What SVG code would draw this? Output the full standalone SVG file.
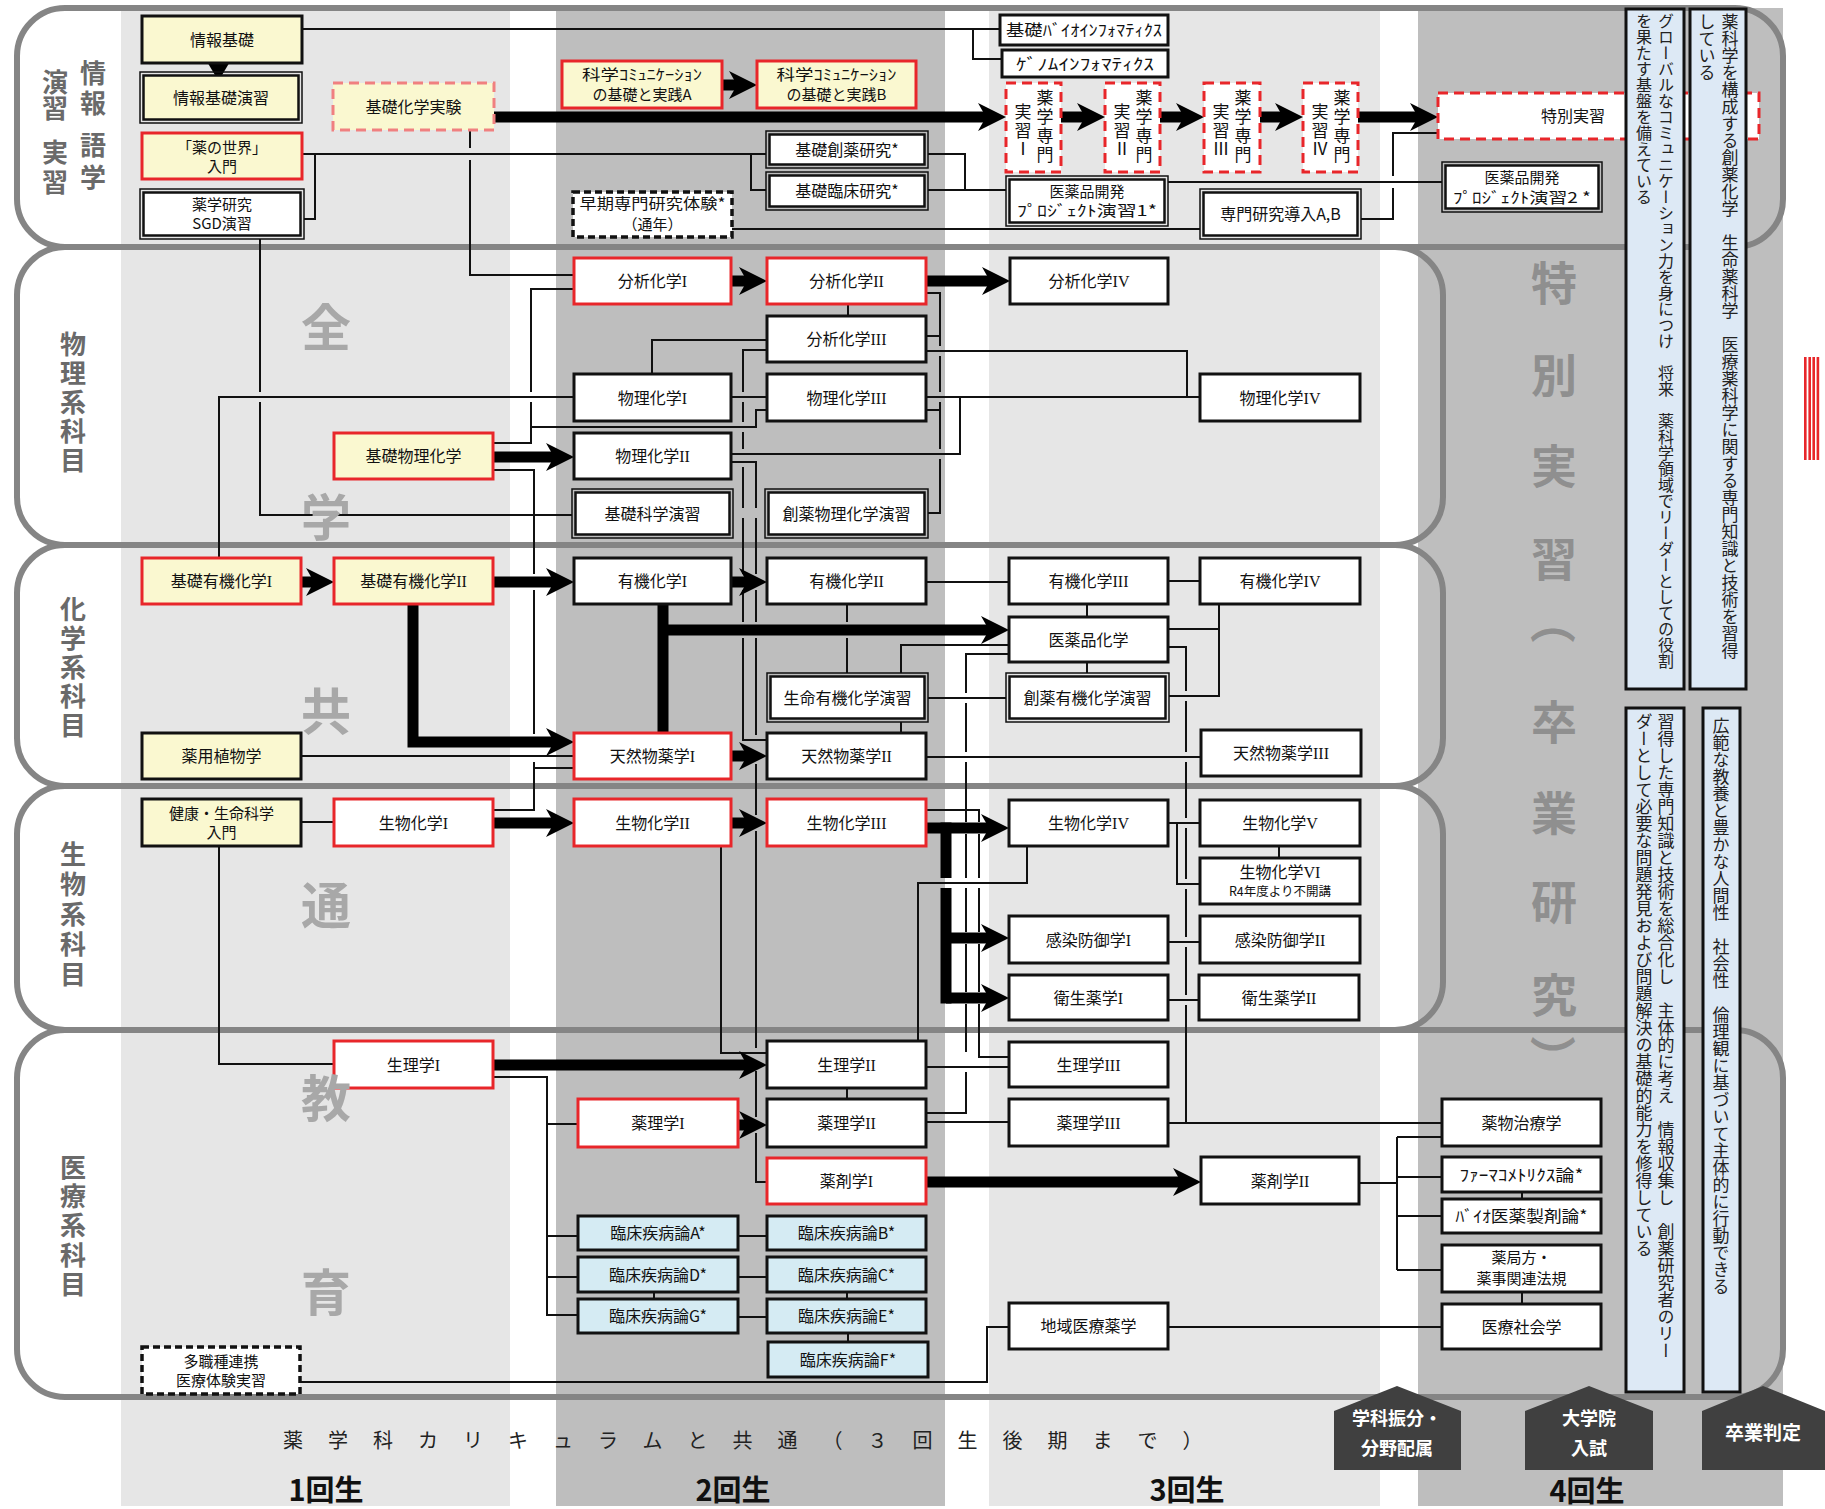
<svg xmlns="http://www.w3.org/2000/svg" width="1825" height="1509" viewBox="0 0 1825 1509">
<style>
.col1{fill:#e6e6e6}.col2{fill:#bebebe}
.band{fill:none;stroke:#858585;stroke-width:6}
.n{fill:#fff;stroke:#111;stroke-width:3}
.y{fill:#faf8d0}
.r{stroke:#e8262a}
.bl{fill:#d5ebf3}
.dr{stroke:#e8262a;stroke-dasharray:10 6}
.dl{stroke:#f08080;stroke-dasharray:10 6}
.dk{stroke-dasharray:7 4;stroke-width:3.5}
.o{fill:none;stroke:#111;stroke-width:1.5}
.i{stroke-width:2.5}
.t{font-family:"Noto Sans CJK JP","Noto Sans",sans-serif;font-size:16px;text-anchor:middle;fill:#111}
.t2{font-size:15px}
.rn{font-family:"Liberation Serif",serif}
.vs{font-family:"Noto Sans CJK JP",sans-serif;font-size:17px;fill:#111;writing-mode:vertical-rl}
.ln{fill:none;stroke:#111;stroke-width:2}
.th{fill:none;stroke:#000;stroke-width:11;marker-end:url(#ah)}
.thn{fill:none;stroke:#000;stroke-width:11}
.lab{font-family:"Noto Sans CJK JP",sans-serif;font-weight:700;font-size:26px;fill:#6a6a6a;writing-mode:vertical-rl}
.zg{font-family:"Noto Sans CJK JP",sans-serif;font-weight:700;font-size:50px;fill:#a8a8a8;text-anchor:middle}
.sp{font-family:"Noto Sans CJK JP",sans-serif;font-weight:700;font-size:46px;fill:#8f8f8f}
.pn{fill:#dde9f5;stroke:#111;stroke-width:3}
.vt{font-family:"Noto Sans CJK JP",sans-serif;font-size:17px;fill:#222;writing-mode:vertical-rl}
.hs{fill:#404040}
.ht{font-family:"Noto Sans CJK JP",sans-serif;font-weight:700;font-size:18px;fill:#fff;text-anchor:middle}
.yr{font-family:"Noto Sans CJK JP",sans-serif;font-weight:700;font-size:29px;fill:#111;text-anchor:middle}
.ct{font-family:"Noto Sans CJK JP",sans-serif;font-size:20px;fill:#222;letter-spacing:25px}
</style>
<defs>
<marker id="ah" markerUnits="userSpaceOnUse" markerWidth="30" markerHeight="30" refX="10" refY="15" orient="auto" viewBox="0 0 30 30"><path d="M0,1 L28,15 L0,29 L8,15 Z" fill="#000"/></marker>
</defs>
<rect x="0" y="0" width="1825" height="1509" fill="#fff"/>
<g id="columns">
<rect class="col1" x="121" y="8" width="389" height="1498"/>
<rect class="col2" x="556" y="8" width="389" height="1498"/>
<rect class="col1" x="989" y="8" width="391" height="1498"/>
<rect class="col2" x="1418" y="8" width="365" height="1498"/>
</g>
<g id="bands">
<rect class="band" x="17" y="8" width="1766" height="239" rx="48"/>
<rect class="band" x="17" y="247" width="1426" height="298" rx="48"/>
<rect class="band" x="17" y="545" width="1426" height="241" rx="48"/>
<rect class="band" x="17" y="786" width="1426" height="244" rx="48"/>
<rect class="band" x="17" y="1030" width="1766" height="367" rx="48"/>
</g>
<g id="connectors">
<path class="ln" d="M302,29 H1000 M973,29 V59 H1002"/>
<path class="ln" d="M302,154 H766 M751,154 V190 H766 M304,219 H315 V154"/>
<path class="ln" d="M470,130 V148 M470,160 V275 H574"/>
<path class="ln" d="M260,239 V392 M260,402 V515 H572"/>
<path class="ln" d="M928,154 H965 V190 M928,190 H1006"/>
<path class="ln" d="M1168,182 H1442"/>
<path class="ln" d="M732,229 H1200"/>
<path class="ln" d="M1361,219 H1393 V188 M1393,176 V133 H1438"/>
<path class="ln" d="M574,289 H531 V392 M531,402 V443 H493"/>
<path class="ln" d="M574,397 H219 V558"/>
<path class="ln" d="M848,304 V316"/>
<path class="ln" d="M652,374 V340 H767"/>
<path class="ln" d="M731,397 H767"/>
<path class="ln" d="M531,427 H756 V410 H767"/>
<path class="ln" d="M767,350 H743 V392 M743,402 V422 M743,432 V449 M743,467 V508 M743,518 V574 M743,590 V622 M743,638 V740 H767"/>
<path class="ln" d="M731,462 H756 V508 M756,518 V574 M756,590 V622 M756,638 V735 M756,764 V815 M756,831 V1048 M756,1071 V1117 M756,1133 V1182 H767"/>
<path class="ln" d="M926,293 H940 V346 M940,356 V392 M940,402 V449 M940,459 V513 H928 M926,336 H940 M926,410 H940"/>
<path class="ln" d="M926,351 H1187 V397 H1200"/>
<path class="ln" d="M926,397 H1200"/>
<path class="ln" d="M731,454 H960 V397"/>
<path class="ln" d="M301,756 H574"/>
<path class="ln" d="M847,604 V622 M847,638 V673"/>
<path class="ln" d="M926,582 H1009"/>
<path class="ln" d="M1168,581 H1200"/>
<path class="ln" d="M1087,604 V617 M1087,662 V673"/>
<path class="ln" d="M1219,604 V696 H1169 M1168,629 H1219"/>
<path class="ln" d="M1168,647 H1186 V691 M1186,701 V752 M1186,762 V818 M1186,828 V879 M1186,889 V937 M1186,947 V995 M1186,1005 V1123"/>
<path class="ln" d="M1009,645 H901 V673 M901,722 V733"/>
<path class="ln" d="M1009,654 H966 V693 M966,703 V752 M966,762 V822 M966,834 V878 M966,888 V932 M966,944 V992 M966,1004 V1052 M966,1072 V1113 H926"/>
<path class="ln" d="M928,698 H1006"/>
<path class="ln" d="M926,757 H1200"/>
<path class="ln" d="M493,470 H534 V574 M534,590 V734 M534,762 V810 H493 M534,768 H574"/>
<path class="ln" d="M301,822 H334"/>
<path class="ln" d="M219,846 V1064 H334"/>
<path class="ln" d="M721,846 V1053 H767"/>
<path class="ln" d="M926,810 H979 V822 M979,834 V878 M979,888 V932 M979,944 V992 M979,1004 V1057 H1009"/>
<path class="ln" d="M1027,846 V883 H918 V1041"/>
<path class="ln" d="M1168,823 H1200 M1177,823 V884 H1200"/>
<path class="ln" d="M1279,846 V858"/>
<path class="ln" d="M1168,942 H1200 M1168,1000 H1199"/>
<path class="ln" d="M493,1077 H547 V1315 H578 M547,1124 H578 M547,1236 H578 M547,1277 H578"/>
<path class="ln" d="M847,1088 V1099"/>
<path class="ln" d="M926,1067 H1009"/>
<path class="ln" d="M926,1122 H1009"/>
<path class="ln" d="M1168,1123 H1442"/>
<path class="ln" d="M738,1236 H767 M738,1277 H767 M738,1317 H767 M654,1292 V1299 M847,1292 V1299 M848,1333 V1342"/>
<path class="ln" d="M1359,1183 H1397 M1397,1137 V1270 M1397,1137 H1442 M1397,1177 H1442 M1397,1216 H1442 M1397,1270 H1442"/>
<path class="ln" d="M1522,1192 V1199 M1522,1292 V1304"/>
<path class="ln" d="M1168,1327 H1442"/>
<path class="ln" d="M1009,1327 H987 V1382 H300"/>
<path class="th" d="M494,117 H988"/>
<path class="th" d="M722,85 H739"/>
<path class="th" d="M1061,117 H1087"/>
<path class="th" d="M1160,117 H1186"/>
<path class="th" d="M1260,117 H1285"/>
<path class="th" d="M1358,117 H1420"/>
<path class="th" d="M731,281 H749"/>
<path class="th" d="M926,281 H992"/>
<path class="th" d="M493,457 H556"/>
<path class="th" d="M301,582 H316"/>
<path class="th" d="M493,582 H556"/>
<path class="th" d="M731,582 H749"/>
<path class="th" d="M413,604 V742 H556"/>
<path class="thn" d="M663,604 V733"/>
<path class="th" d="M663,630 H991"/>
<path class="th" d="M731,756 H749"/>
<path class="th" d="M493,823 H556"/>
<path class="th" d="M731,823 H749"/>
<path class="th" d="M926,828 H991"/>
<path class="thn" d="M946,822.5 V878 M946,888 V1003.5"/>
<path class="th" d="M946,938 H991"/>
<path class="th" d="M946,998 H991"/>
<path class="th" d="M493,1065 H749"/>
<path class="th" d="M738,1125 H749"/>
<path class="th" d="M926,1182 H1183"/>
<polygon points="206,60 231,60 218.5,81" fill="#000"/>
</g>
<g id="n01"><rect class="n y" x="142" y="16" width="160" height="47"/><text class="t" x="222" y="45.5">情報基礎</text></g>
<g id="n02"><rect class="o" x="140" y="72" width="162" height="51"/><rect class="n y i" x="143.5" y="75.5" width="155" height="44"/><text class="t" x="221" y="103.5">情報基礎演習</text></g>
<g id="n03"><rect class="n y dl" x="333" y="83" width="161" height="47"/><text class="t" x="413.5" y="112.5">基礎化学実験</text></g>
<g id="n04"><rect class="n y r" x="142" y="133" width="160" height="46"/><text class="t t2" x="222" y="153">「薬の世界」</text><text class="t t2" x="222" y="172">入門</text></g>
<g id="n05"><rect class="o" x="140" y="189" width="164" height="50"/><rect class="n i" x="143.5" y="192.5" width="157" height="43"/><text class="t t2" x="222" y="210">薬学研究</text><text class="t t2" x="222" y="229">SGD演習</text></g>
<g id="n06"><rect class="n y r" x="562" y="61" width="160" height="47"/><text class="t t2" x="642" y="80" textLength="120" lengthAdjust="spacingAndGlyphs">科学ｺﾐｭﾆｹｰｼｮﾝ</text><text class="t t2" x="642" y="100">の基礎と実践A</text></g>
<g id="n07"><rect class="n y r" x="757" y="61" width="159" height="47"/><text class="t t2" x="836.5" y="80" textLength="120" lengthAdjust="spacingAndGlyphs">科学ｺﾐｭﾆｹｰｼｮﾝ</text><text class="t t2" x="836.5" y="100">の基礎と実践B</text></g>
<g id="n08"><rect class="n" x="1000" y="15" width="168" height="30"/><text class="t" x="1084" y="36" textLength="156" lengthAdjust="spacingAndGlyphs">基礎ﾊﾞｲｵｲﾝﾌｫﾏﾃｨｸｽ</text></g>
<g id="n09"><rect class="n" x="1002" y="50" width="166" height="27"/><text class="t" x="1085" y="69.5" textLength="138" lengthAdjust="spacingAndGlyphs">ｹﾞﾉﾑｲﾝﾌｫﾏﾃｨｸｽ</text></g>
<g id="n10"><rect class="n dr" x="1006" y="83" width="55" height="89"/><text class="vs" x="1045" y="89.5" letter-spacing="2">薬学専門</text><text class="vs" x="1023" y="103.5" letter-spacing="1.5">実習Ⅰ</text></g>
<g id="n11"><rect class="n dr" x="1105" y="83" width="55" height="89"/><text class="vs" x="1144" y="89.5" letter-spacing="2">薬学専門</text><text class="vs" x="1122" y="103.5" letter-spacing="1.5">実習Ⅱ</text></g>
<g id="n12"><rect class="n dr" x="1204" y="83" width="56" height="89"/><text class="vs" x="1243" y="89.5" letter-spacing="2">薬学専門</text><text class="vs" x="1221" y="103.5" letter-spacing="1.5">実習Ⅲ</text></g>
<g id="n13"><rect class="n dr" x="1303" y="83" width="55" height="89"/><text class="vs" x="1342" y="89.5" letter-spacing="2">薬学専門</text><text class="vs" x="1320" y="103.5" letter-spacing="1.5">実習Ⅳ</text></g>
<g id="n14"><rect class="n dr" x="1438" y="93" width="321" height="46"/><text class="t" x="1573" y="122">特別実習</text></g>
<g id="n15"><rect class="o" x="766" y="131" width="162" height="37"/><rect class="n i" x="769.5" y="134.5" width="155" height="30"/><text class="t" x="847" y="155.5">基礎創薬研究*</text></g>
<g id="n16"><rect class="o" x="766" y="172" width="162" height="38"/><rect class="n i" x="769.5" y="175.5" width="155" height="31"/><text class="t" x="847" y="197">基礎臨床研究*</text></g>
<g id="n17"><rect class="n dk" x="573" y="192" width="159" height="45"/><text class="t t2" x="652.5" y="209" textLength="146" lengthAdjust="spacingAndGlyphs">早期専門研究体験*</text><text class="t t2" x="652.5" y="230">（通年）</text></g>
<g id="n18"><rect class="o" x="1006" y="176" width="162" height="50"/><rect class="n i" x="1009.5" y="179.5" width="155" height="43"/><text class="t t2" x="1087" y="197">医薬品開発</text><text class="t t2" x="1087" y="216" textLength="140" lengthAdjust="spacingAndGlyphs">ﾌﾟﾛｼﾞｪｸﾄ演習1*</text></g>
<g id="n19"><rect class="o" x="1200" y="189" width="161" height="50"/><rect class="n i" x="1203.5" y="192.5" width="154" height="43"/><text class="t" x="1280.5" y="220">専門研究導入A,B</text></g>
<g id="n20"><rect class="o" x="1442" y="162" width="160" height="50"/><rect class="n i" x="1445.5" y="165.5" width="153" height="43"/><text class="t t2" x="1522" y="183">医薬品開発</text><text class="t t2" x="1522" y="203" textLength="138" lengthAdjust="spacingAndGlyphs">ﾌﾟﾛｼﾞｪｸﾄ演習2 *</text></g>
<g id="n21"><rect class="n r" x="574" y="258" width="157" height="46"/><text class="t" x="652.5" y="287">分析化学<tspan class="rn">I</tspan></text></g>
<g id="n22"><rect class="n r" x="767" y="258" width="159" height="46"/><text class="t" x="846.5" y="287">分析化学<tspan class="rn">II</tspan></text></g>
<g id="n23"><rect class="n" x="1010" y="258" width="158" height="46"/><text class="t" x="1089" y="287">分析化学<tspan class="rn">IV</tspan></text></g>
<g id="n24"><rect class="n" x="767" y="316" width="159" height="46"/><text class="t" x="846.5" y="345">分析化学<tspan class="rn">III</tspan></text></g>
<g id="n25"><rect class="n" x="574" y="374" width="157" height="47"/><text class="t" x="652.5" y="403.5">物理化学<tspan class="rn">I</tspan></text></g>
<g id="n26"><rect class="n" x="767" y="374" width="159" height="47"/><text class="t" x="846.5" y="403.5">物理化学<tspan class="rn">III</tspan></text></g>
<g id="n27"><rect class="n" x="1200" y="374" width="160" height="47"/><text class="t" x="1280" y="403.5">物理化学<tspan class="rn">IV</tspan></text></g>
<g id="n28"><rect class="n y r" x="334" y="433" width="159" height="46"/><text class="t" x="413.5" y="462">基礎物理化学</text></g>
<g id="n29"><rect class="n" x="574" y="433" width="157" height="46"/><text class="t" x="652.5" y="462">物理化学<tspan class="rn">II</tspan></text></g>
<g id="n30"><rect class="o" x="572" y="489" width="161" height="49"/><rect class="n i" x="575.5" y="492.5" width="154" height="42"/><text class="t" x="652.5" y="519.5">基礎科学演習</text></g>
<g id="n31"><rect class="o" x="765" y="489" width="163" height="49"/><rect class="n i" x="768.5" y="492.5" width="156" height="42"/><text class="t" x="846.5" y="519.5">創薬物理化学演習</text></g>
<g id="n32"><rect class="n y r" x="142" y="558" width="159" height="46"/><text class="t" x="221.5" y="587">基礎有機化学<tspan class="rn">I</tspan></text></g>
<g id="n33"><rect class="n y r" x="334" y="558" width="159" height="46"/><text class="t" x="413.5" y="587">基礎有機化学<tspan class="rn">II</tspan></text></g>
<g id="n34"><rect class="n" x="574" y="558" width="157" height="46"/><text class="t" x="652.5" y="587">有機化学<tspan class="rn">I</tspan></text></g>
<g id="n35"><rect class="n" x="767" y="558" width="159" height="46"/><text class="t" x="846.5" y="587">有機化学<tspan class="rn">II</tspan></text></g>
<g id="n36"><rect class="n" x="1009" y="558" width="159" height="46"/><text class="t" x="1088.5" y="587">有機化学<tspan class="rn">III</tspan></text></g>
<g id="n37"><rect class="n" x="1200" y="558" width="160" height="46"/><text class="t" x="1280" y="587">有機化学<tspan class="rn">IV</tspan></text></g>
<g id="n38"><rect class="n" x="1009" y="617" width="159" height="45"/><text class="t" x="1088.5" y="645.5">医薬品化学</text></g>
<g id="n39"><rect class="o" x="767" y="673" width="161" height="49"/><rect class="n i" x="770.5" y="676.5" width="154" height="42"/><text class="t" x="847.5" y="703.5">生命有機化学演習</text></g>
<g id="n40"><rect class="o" x="1006" y="673" width="163" height="49"/><rect class="n i" x="1009.5" y="676.5" width="156" height="42"/><text class="t" x="1087.5" y="703.5">創薬有機化学演習</text></g>
<g id="n41"><rect class="n y" x="142" y="733" width="159" height="46"/><text class="t" x="221.5" y="762">薬用植物学</text></g>
<g id="n42"><rect class="n r" x="574" y="733" width="157" height="46"/><text class="t" x="652.5" y="762">天然物薬学<tspan class="rn">I</tspan></text></g>
<g id="n43"><rect class="n" x="767" y="733" width="159" height="46"/><text class="t" x="846.5" y="762">天然物薬学<tspan class="rn">II</tspan></text></g>
<g id="n44"><rect class="n" x="1201" y="730" width="160" height="46"/><text class="t" x="1281" y="759">天然物薬学<tspan class="rn">III</tspan></text></g>
<g id="n45"><rect class="n y" x="142" y="799" width="159" height="47"/><text class="t t2" x="221.5" y="819">健康・生命科学</text><text class="t t2" x="221.5" y="838">入門</text></g>
<g id="n46"><rect class="n r" x="334" y="799" width="159" height="47"/><text class="t" x="413.5" y="828.5">生物化学<tspan class="rn">I</tspan></text></g>
<g id="n47"><rect class="n r" x="574" y="799" width="157" height="47"/><text class="t" x="652.5" y="828.5">生物化学<tspan class="rn">II</tspan></text></g>
<g id="n48"><rect class="n r" x="767" y="799" width="159" height="47"/><text class="t" x="846.5" y="828.5">生物化学<tspan class="rn">III</tspan></text></g>
<g id="n49"><rect class="n" x="1009" y="800" width="159" height="46"/><text class="t" x="1088.5" y="829">生物化学<tspan class="rn">IV</tspan></text></g>
<g id="n50"><rect class="n" x="1200" y="800" width="160" height="46"/><text class="t" x="1280" y="829">生物化学<tspan class="rn">V</tspan></text></g>
<g id="n51"><rect class="n" x="1200" y="858" width="160" height="46"/><text class="t" x="1280" y="878">生物化学<tspan class="rn">VI</tspan></text><text class="t" style="font-size:12.5px" x="1280" y="896">R4年度より不開講</text></g>
<g id="n52"><rect class="n" x="1009" y="916" width="159" height="47"/><text class="t" x="1088.5" y="945.5">感染防御学<tspan class="rn">I</tspan></text></g>
<g id="n53"><rect class="n" x="1200" y="916" width="160" height="47"/><text class="t" x="1280" y="945.5">感染防御学<tspan class="rn">II</tspan></text></g>
<g id="n54"><rect class="n" x="1009" y="975" width="159" height="45"/><text class="t" x="1088.5" y="1003.5">衛生薬学<tspan class="rn">I</tspan></text></g>
<g id="n55"><rect class="n" x="1199" y="975" width="160" height="45"/><text class="t" x="1279" y="1003.5">衛生薬学<tspan class="rn">II</tspan></text></g>
<g id="n56"><rect class="n r" x="334" y="1041" width="159" height="47"/><text class="t" x="413.5" y="1070.5">生理学<tspan class="rn">I</tspan></text></g>
<g id="n57"><rect class="n" x="767" y="1041" width="159" height="47"/><text class="t" x="846.5" y="1070.5">生理学<tspan class="rn">II</tspan></text></g>
<g id="n58"><rect class="n" x="1009" y="1042" width="159" height="45"/><text class="t" x="1088.5" y="1070.5">生理学<tspan class="rn">III</tspan></text></g>
<g id="n59"><rect class="n r" x="578" y="1099" width="160" height="48"/><text class="t" x="658" y="1129">薬理学<tspan class="rn">I</tspan></text></g>
<g id="n60"><rect class="n" x="767" y="1099" width="159" height="48"/><text class="t" x="846.5" y="1129">薬理学<tspan class="rn">II</tspan></text></g>
<g id="n61"><rect class="n" x="1009" y="1099" width="159" height="47"/><text class="t" x="1088.5" y="1128.5">薬理学<tspan class="rn">III</tspan></text></g>
<g id="n62"><rect class="n r" x="767" y="1158" width="159" height="46"/><text class="t" x="846.5" y="1187">薬剤学<tspan class="rn">I</tspan></text></g>
<g id="n63"><rect class="n" x="1201" y="1157" width="158" height="47"/><text class="t" x="1280" y="1186.5">薬剤学<tspan class="rn">II</tspan></text></g>
<g id="n64"><rect class="n" x="1442" y="1099" width="159" height="47"/><text class="t" x="1521.5" y="1128.5">薬物治療学</text></g>
<g id="n65"><rect class="n" x="1442" y="1157" width="159" height="35"/><text class="t" x="1521.5" y="1180.5" textLength="124" lengthAdjust="spacingAndGlyphs">ﾌｧｰﾏｺﾒﾄﾘｸｽ論*</text></g>
<g id="n66"><rect class="n" x="1442" y="1199" width="159" height="34"/><text class="t" x="1521.5" y="1222" textLength="132" lengthAdjust="spacingAndGlyphs">ﾊﾞｲｵ医薬製剤論*</text></g>
<g id="n67"><rect class="n" x="1442" y="1245" width="159" height="47"/><text class="t t2" x="1521.5" y="1263">薬局方・</text><text class="t t2" x="1521.5" y="1284">薬事関連法規</text></g>
<g id="n68"><rect class="n" x="1442" y="1304" width="159" height="45"/><text class="t" x="1521.5" y="1332.5">医療社会学</text></g>
<g id="n69"><rect class="n" x="1009" y="1303" width="159" height="46"/><text class="t" x="1088.5" y="1332">地域医療薬学</text></g>
<g id="n70"><rect class="n bl" x="578" y="1216" width="160" height="34"/><text class="t" x="658" y="1239">臨床疾病論A*</text></g>
<g id="n71"><rect class="n bl" x="767" y="1216" width="159" height="34"/><text class="t" x="846.5" y="1239">臨床疾病論B*</text></g>
<g id="n72"><rect class="n bl" x="578" y="1257" width="160" height="35"/><text class="t" x="658" y="1280.5">臨床疾病論D*</text></g>
<g id="n73"><rect class="n bl" x="767" y="1257" width="159" height="35"/><text class="t" x="846.5" y="1280.5">臨床疾病論C*</text></g>
<g id="n74"><rect class="n bl" x="578" y="1299" width="160" height="34"/><text class="t" x="658" y="1322">臨床疾病論G*</text></g>
<g id="n75"><rect class="n bl" x="767" y="1299" width="159" height="34"/><text class="t" x="846.5" y="1322">臨床疾病論E*</text></g>
<g id="n76"><rect class="n bl" x="768" y="1342" width="160" height="35"/><text class="t" x="848" y="1365.5">臨床疾病論F*</text></g>
<g id="n77"><rect class="n dk" x="142" y="1347" width="158" height="47"/><text class="t t2" x="221" y="1367">多職種連携</text><text class="t t2" x="221" y="1386">医療体験実習</text></g>
<g id="panels">
<rect class="pn" x="1626" y="9" width="58" height="680"/>
<rect class="pn" x="1690" y="9" width="56" height="680"/>
<rect class="pn" x="1626" y="708" width="58" height="684"/>
<rect class="pn" x="1703" y="708" width="37" height="684"/>
<text class="vt" style="font-size:16px" x="1666" y="13">グローバルなコミュニケーション力を身につけ　将来　薬科学領域でリーダーとしての役割</text>
<text class="vt" style="font-size:16px" x="1644" y="13">を果たす基盤を備えている</text>
<text class="vt" x="1730" y="13">薬科学を構成する創薬化学　生命薬科学　医療薬科学に関する専門知識と技術を習得</text>
<text class="vt" x="1707" y="13">している</text>
<text class="vt" x="1666" y="713">習得した専門知識と技術を総合化し　主体的に考え　情報収集し　創薬研究者のリー</text>
<text class="vt" x="1644" y="713">ダーとして必要な問題発見および問題解決の基礎的能力を修得している</text>
<text class="vt" x="1721" y="717">広範な教養と豊かな人間性　社会性　倫理観に基づいて主体的に行動できる</text>
</g>
<g id="labels">
<text class="lab" x="93" y="60" letter-spacing="4">情報</text>
<text class="lab" x="93" y="132" letter-spacing="6">語学</text>
<text class="lab" x="55" y="69" letter-spacing="0">演習</text>
<text class="lab" x="55" y="139" letter-spacing="4">実習</text>
<text class="lab" x="73" y="331" letter-spacing="3">物理系科目</text>
<text class="lab" x="73" y="596" letter-spacing="3">化学系科目</text>
<text class="lab" x="73" y="841" letter-spacing="4">生物系科目</text>
<text class="lab" x="73" y="1154" letter-spacing="3.3">医療系科目</text>
<text class="zg"><tspan x="326" y="346">全</tspan><tspan x="326" y="536">学</tspan><tspan x="326" y="730">共</tspan><tspan x="326" y="924">通</tspan><tspan x="326" y="1117">教</tspan><tspan x="326" y="1311">育</tspan></text>
<text class="sp"><tspan x="1531" y="300">特</tspan><tspan x="1531" y="392">別</tspan><tspan x="1531" y="483">実</tspan><tspan x="1531" y="576">習</tspan><tspan x="1536" y="598" rotate="90">（</tspan><tspan x="1531" y="739">卒</tspan><tspan x="1531" y="830">業</tspan><tspan x="1531" y="919">研</tspan><tspan x="1531" y="1012">究</tspan><tspan x="1536" y="1035" rotate="90">）</tspan></text>
<rect x="1804" y="357" width="2.6" height="103" fill="#e8262a"/>
<rect x="1808.4" y="357" width="2.6" height="103" fill="#e8262a"/>
<rect x="1812.4" y="357" width="2.6" height="103" fill="#e8262a"/>
<rect x="1816.6" y="357" width="2.6" height="103" fill="#e8262a"/>
<text class="ct" x="283" y="1448">薬学科カリキュラムと共通（３回生後期まで）</text>
<text class="yr" x="326" y="1501">1回生</text>
<text class="yr" x="733" y="1501">2回生</text>
<text class="yr" x="1187" y="1501">3回生</text>
<text class="yr" x="1587" y="1502">4回生</text>
</g>
<g id="milestones">
<path class="hs" d="M1334,1411 L1397,1386 L1461,1411 L1461,1470 L1334,1470 Z"/>
<text class="ht" x="1397" y="1424.5">学科振分・</text><text class="ht" x="1397" y="1454.5">分野配属</text>
<path class="hs" d="M1525,1411 L1589,1386 L1653,1411 L1653,1470 L1525,1470 Z"/>
<text class="ht" x="1589" y="1424.5">大学院</text><text class="ht" x="1589" y="1454.5">入試</text>
<path class="hs" d="M1702,1411 L1763,1386 L1825,1411 L1825,1470 L1702,1470 Z"/>
<text class="ht" x="1763" y="1439.5" style="font-size:19px">卒業判定</text>
</g>
</svg>
